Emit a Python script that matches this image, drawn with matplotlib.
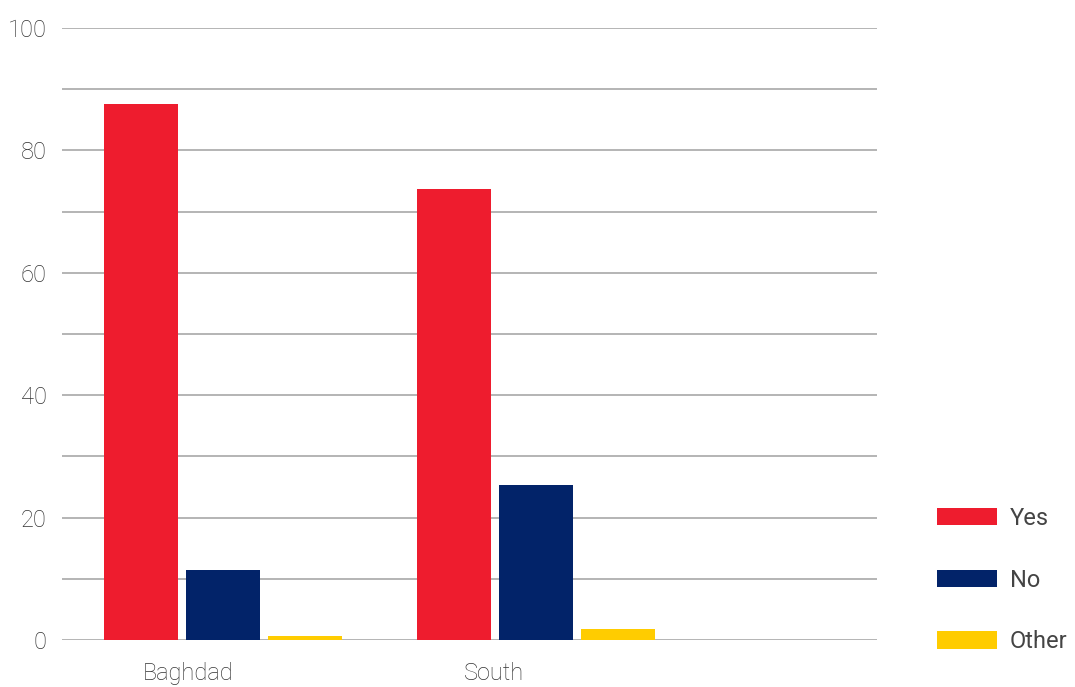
import matplotlib
matplotlib.use("Agg")
import matplotlib.pyplot as plt
import numpy as np

categories = ["Baghdad", "South"]
series = ["Yes", "No", "Other"]
yes_vals = [87.6, 73.7]
no_vals = [11.5, 25.3]
other_vals = [0.7, 1.8]
colors = ["#EE1C2E", "#022369", "#FFCC00"]
y_ticks = [0, 20, 40, 60, 80, 100]

plt.rcParams['font.family'] = ['Roboto', 'DejaVu Sans']
tick_color = "#333333"
legend_color = "#444444"

fig = plt.figure(figsize=(10.75, 6.87), dpi=100)
ax = fig.add_axes([62/1075, 47/687, (877-62)/1075, (640-28)/687])

x = np.arange(len(categories))
width = 0.236
offset = 0.262
for i, (name, vals, c) in enumerate(zip(series, [yes_vals, no_vals, other_vals], colors)):
    ax.bar(x + (i - 1) * offset, vals, width=width, color=c, label=name, zorder=3)

ax.set_xlim(-0.514, 2.089)
ax.set_ylim(0, 100)
ax.set_yticks(y_ticks)
ax.set_yticks(np.arange(0, 101, 10), minor=True)
ax.grid(axis='y', which='both', color='#a0a0a0', linewidth=1.1, zorder=0)
ax.tick_params(axis='y', which='both', length=0, pad=11, labelsize=17, labelcolor=tick_color)
ax.set_xticks(x - np.array([0.112, 0.134]))
ax.set_xticklabels(categories)
ax.tick_params(axis='x', length=0, pad=16, labelsize=17, labelcolor=tick_color)
for lab in ax.get_xticklabels() + ax.get_yticklabels():
    lab.set_fontweight('light')
for s in ax.spines.values():
    s.set_visible(False)

leg = fig.legend(loc='upper left', bbox_to_anchor=(925/1075, 1 - 495/687),
                 frameon=False, fontsize=17, handlelength=2.55, handleheight=0.76,
                 labelspacing=1.64, handletextpad=0.55, borderpad=0)
for t in leg.get_texts():
    t.set_color(legend_color)

fig.savefig("out.png", dpi=100)
